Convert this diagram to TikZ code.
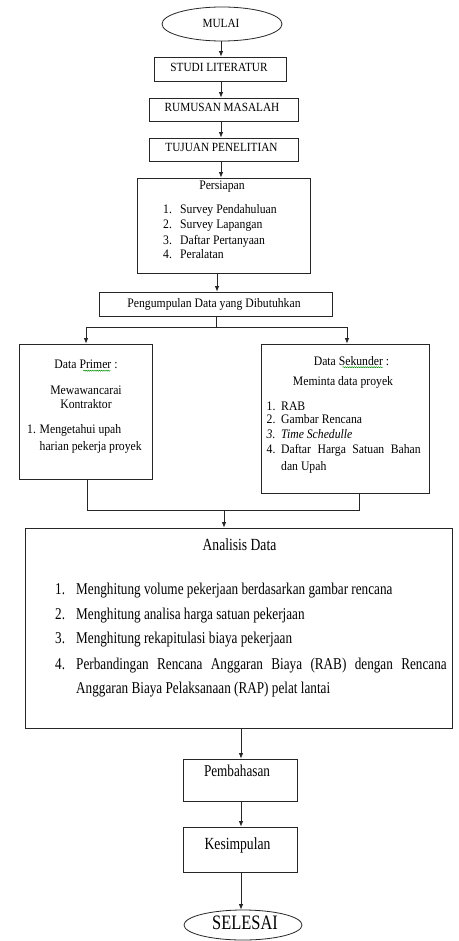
\documentclass[tikz,border=0pt]{standalone}
\usepackage{fontspec}
\setmainfont{Liberation Serif}
\newfontfamily\fA[FakeStretch=0.9]{Liberation Serif}
\newfontfamily\fB[FakeStretch=0.8]{Liberation Serif}
\usetikzlibrary{shapes.geometric,arrows.meta,decorations.pathmorphing}
\begin{document}
\begin{tikzpicture}[x=1pt,y=-1pt,
  box/.style={draw=black!85, line width=0.8pt, rectangle, inner sep=0pt},
  oval/.style={draw=black!85, line width=0.8pt, ellipse, inner sep=0pt},
  arr/.style={draw=black!85, line width=0.8pt, -{Latex[length=5.5pt,width=4.5pt]}},
  ln/.style={draw=black!85, line width=0.8pt},
  tCaps/.style={inner sep=0pt, anchor=base, font=\fA\fontsize{12.5}{14}\selectfont},
  tA/.style={inner sep=0pt, anchor=base, font=\fA\fontsize{13}{15}\selectfont},
  tAw/.style={tA, anchor=base west},
  tB/.style={inner sep=0pt, anchor=base, font=\fB\fontsize{16.5}{19}\selectfont},
  tBw/.style={tB, anchor=base west},
  tBig/.style={inner sep=0pt, anchor=base, font=\fB\fontsize{20.5}{23}\selectfont},
  spell/.style={draw=green!55!black, line width=0.5pt, decorate, decoration={snake, amplitude=0.5pt, segment length=2.2pt}}
]
\useasboundingbox (0,0) rectangle (458,941);
\fill[white] (0,0) rectangle (458,941);

% ---- shapes ----
\node[oval, minimum width=120pt, minimum height=34pt] (mulai) at (222,24) {};
\node[box, minimum width=132pt, minimum height=24pt] (studi) at (220,69) {};
\node[box, minimum width=149pt, minimum height=23pt] (rumusan) at (223.5,109.5) {};
\node[box, minimum width=149pt, minimum height=23pt] (tujuan) at (223.5,149.5) {};
\node[box, minimum width=173pt, minimum height=95pt] (persiapan) at (223.5,225.5) {};
\node[box, minimum width=233pt, minimum height=24pt] (pengumpulan) at (215.5,304) {};
\node[box, minimum width=133pt, minimum height=135pt] (primer) at (85.5,411.5) {};
\node[box, minimum width=168pt, minimum height=149pt] (sekunder) at (345,418.5) {};
\node[box, minimum width=427pt, minimum height=200pt] (analisis) at (238.5,628) {};
\node[box, minimum width=114pt, minimum height=42pt] (pembahasan) at (240,780) {};
\node[box, minimum width=114pt, minimum height=45pt] (kesimpulan) at (240,849.5) {};
\node[oval, minimum width=118pt, minimum height=30pt] (selesai) at (243,925) {};

% ---- texts ----
\node[tCaps] (mulaiT) at (221,28) {MULAI};
\node[tCaps] (studiT) at (219,72) {STUDI LITERATUR};
\node[tCaps] (rumusanT) at (222,112) {RUMUSAN MASALAH};
\node[tCaps] (tujuanT) at (221.5,152) {TUJUAN PENELITIAN};

\node[tA] (persT) at (222,190) {Persiapan};
\node[tAw] (p1n) at (163,213.5) {1.};
\node[tAw] (p1) at (180,213.5) {Survey Pendahuluan};
\node[tAw] (p2n) at (163,229) {2.};
\node[tAw] (p2) at (180,229) {Survey Lapangan};
\node[tAw] (p3n) at (163,244.3) {3.};
\node[tAw] (p3) at (180,244.3) {Daftar Pertanyaan};
\node[tAw] (p4n) at (163,258) {4.};
\node[tAw] (p4) at (180,258) {Peralatan};

\node[tA] (pengT) at (214,307) {Pengumpulan Data yang Dibutuhkan};

\node[tA] (primT) at (86,368.5) {Data Primer :};
\node[tA] (primM1) at (86,394) {Mewawancarai};
\node[tA] (primM2) at (86,408.5) {Kontraktor};
\node[tAw] (pr1n) at (27,433) {1.};
\node[tAw] (pr1a) at (39.5,433) {Mengetahui upah};
\node[tAw] (pr1b) at (39.5,450.5) {harian pekerja proyek};
\draw[spell] (primT.base west) ++(29,2.2) -- ++(27,0);

\node[tA] (sekT) at (351.5,365) {Data Sekunder :};
\node[tA] (sekM) at (343,385.5) {Meminta data proyek};
\node[tAw] (s1n) at (266.5,410) {1.};
\node[tAw] (s1) at (281,410) {RAB};
\node[tAw] (s2n) at (266.5,423.5) {2.};
\node[tAw] (s2) at (281,423.5) {Gambar Rencana};
\node[tAw] (s3n) at (266.5,438.5) {\itshape 3.};
\node[tAw] (s3) at (281,438.5) {\itshape Time Schedulle};
\node[tAw] (s4n) at (266.5,453) {4.};
\node[tAw] (s4) at (281,453) {\makebox[139.5pt][s]{Daftar Harga Satuan Bahan}};
\node[tAw] (s4b) at (281,470.5) {dan Upah};
\draw[spell] (sekT.base west) ++(29,2.2) -- ++(40,0);

\node[tB, font=\fB\fontsize{17}{19}\selectfont] (anT) at (239.5,550) {Analisis Data};
\node[tBw] (a1n) at (55,594.5) {1.};
\node[tBw] (a1) at (76,594.5) {Menghitung volume pekerjaan berdasarkan gambar rencana};
\node[tBw] (a2n) at (55,619.5) {2.};
\node[tBw] (a2) at (76,619.5) {Menghitung analisa harga satuan pekerjaan};
\node[tBw] (a3n) at (55,643.5) {3.};
\node[tBw] (a3) at (76,643.5) {Menghitung rekapitulasi biaya pekerjaan};
\node[tBw] (a4n) at (55,669.5) {4.};
\node[tBw] (a4) at (76,669.5) {\makebox[370.5pt][s]{Perbandingan Rencana Anggaran Biaya (RAB) dengan Rencana}};
\node[tBw] (a4b) at (76,693.5) {Anggaran Biaya Pelaksanaan (RAP) pelat lantai};

\node[tB] (pembT) at (237,776) {Pembahasan};
\node[tB, font=\fB\fontsize{17}{19}\selectfont] (kesT) at (237.5,849.5) {Kesimpulan};
\node[tBig] (selT) at (245,929) {SELESAI};

% ---- connectors ----
\coordinate (c1) at (221,0);
\coordinate (c2) at (217,0);
\coordinate (split) at (216,327);
\coordinate (merge) at (224,510);
\coordinate (c3) at (241,0);

\draw[arr] (mulai.south -| c1) -- (studi.north -| c1);
\draw[arr] (studi.south -| c1) -- (rumusan.north -| c1);
\draw[arr] (rumusan.south -| c1) -- (tujuan.north -| c1);
\draw[arr] (tujuan.south -| c1) -- (persiapan.north -| c1);
\draw[arr] (persiapan.south -| c2) -- (pengumpulan.north -| c2);
\draw[ln] (pengumpulan.south -| split) -- (split);
\draw[arr] (split) -| ([xshift=0.5pt]primer.north);
\draw[arr] (split) -| ([xshift=2pt]sekunder.north);
\draw[ln] ([xshift=1.5pt]primer.south) |- (merge);
\draw[ln] ([xshift=14pt]sekunder.south) |- (merge);
\draw[arr] (merge) -- (merge |- analisis.north);
\draw[arr] (analisis.south -| c3) -- (pembahasan.north -| c3);
\draw[arr] (pembahasan.south -| c3) -- (kesimpulan.north -| c3);
\draw[arr] (kesimpulan.south -| c3) -- (selesai.north -| c3);
\end{tikzpicture}
\end{document}
